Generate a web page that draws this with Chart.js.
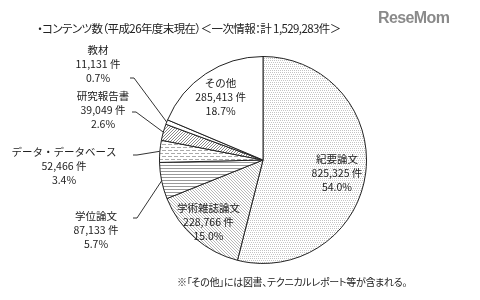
<!DOCTYPE html>
<html>
<head>
<meta charset="utf-8">
<script src="https://cdn.jsdelivr.net/npm/chart.js@4.4.1/dist/chart.umd.min.js"></script>
<style>
  body { margin: 0; background: #fff; }
  #wrap { position: relative; width: 480px; height: 300px; font-family: "Noto Sans CJK JP", sans-serif; color: #222; }
  #title { position: absolute; left: 37px; top: 20px; font-size: 11.5px; white-space: nowrap; font-feature-settings: "palt"; letter-spacing: -0.6px; }
  #logo { position: absolute; left: 378px; top: 9px; font-family: "Liberation Sans", Arial, sans-serif; font-weight: bold; font-size: 16px; color: #8a8a8a; letter-spacing: -0.6px; }
  #note { position: absolute; left: 177px; top: 274px; font-size: 10px; white-space: nowrap; font-feature-settings: "palt"; letter-spacing: -0.3px; }
  canvas { position: absolute; left: 0; top: 0; }
</style>
</head>
<body>
<div id="wrap">
  <canvas id="myPieChart" width="480" height="300"></canvas>
  <div id="title">・コンテンツ数（平成26年度末現在）＜一次情報：計 1,529,283件＞</div>
  <div id="logo">ReseMom</div>
  <div id="note">※「その他」には図書、テクニカルレポート等が含まれる。</div>
</div>

<script>
  // data (clockwise from 12 o'clock)
  var categories = ["紀要論文", "学術雑誌論文", "学位論文", "データ・データベース", "研究報告書", "教材", "その他"];
  var counts = [825325, 228766, 87133, 52466, 39049, 11131, 285413];
  var countLabels = ["825,325 件", "228,766 件", "87,133 件", "52,466 件", "39,049 件", "11,131 件", "285,413 件"];
  var percentLabels = ["54.0%", "15.0%", "5.7%", "3.4%", "2.6%", "0.7%", "18.7%"];

  // where each label sits: inside at a fraction of the radius, or outside at a fixed spot with a leader line
  var labelPlace = [
    { inside: 0.72, dy: 4 },
    { inside: 0.80, dy: 0 },
    { x: 96, y: 216, lx: 133, ly: 218 },
    { x: 64, y: 152, lx: 133, ly: 155 },
    { x: 103, y: 96, lx: 132, ly: 112 },
    { x: 98, y: 50, lx: 130, ly: 78 },
    { inside: 0.74, dy: 1 }
  ];

  function makePattern(kind) {
    var c = document.createElement("canvas");
    var g = c.getContext("2d");
    var s = 6;
    c.width = s; c.height = s;
    g.fillStyle = "#fff";
    g.fillRect(0, 0, s, s);
    if (kind == "dots") {
      g.fillStyle = "#c4c4c4";
      for (var i = 0; i < s; i += 2)
        for (var j = 0; j < s; j += 2)
          g.fillRect(i + (j % 4 ? 1 : 0), j, 1, 1);
    } else if (kind == "diag") {
      g.fillStyle = "#b8b8b8";
      for (var k = 0; k < s; k++) { g.fillRect(k, k, 1, 1); g.fillRect((k + 3) % s, k, 1, 1); }
    } else if (kind == "diag2") {
      g.fillStyle = "#888";
      for (var k = 0; k < s; k++) { g.fillRect(s - 1 - k, k, 1, 1); g.fillRect((2 * s - 4 - k) % s, k, 1, 1); }
    } else if (kind == "hlines") {
      g.fillStyle = "#999";
      g.fillRect(0, 0, s, 1);
      g.fillRect(0, 3, s, 1);
    } else if (kind == "hdash") {
      g.fillStyle = "#aaa";
      g.fillRect(0, 0, 4, 1);
      g.fillRect(3, 3, 3, 1);
      g.fillRect(0, 3, 1, 1);
    }
    return g.createPattern(c, "repeat");
  }

  var fills = [makePattern("dots"), makePattern("diag"), makePattern("hlines"), makePattern("hdash"), makePattern("diag2"), "#ffffff", "#ffffff"];

  var labelPlugin = {
    id: "sliceLabels",
    afterDatasetsDraw: function(chart) {
      var ctx = chart.ctx;
      var arcs = chart.getDatasetMeta(0).data;
      ctx.save();
      ctx.font = "10.5px 'Noto Sans CJK JP'";
      ctx.fillStyle = "#222";
      ctx.textAlign = "center";
      ctx.textBaseline = "middle";
      arcs.forEach(function(arc, i) {
        var p = arc.getProps(["x", "y", "startAngle", "endAngle", "outerRadius"], true);
        var mid = (p.startAngle + p.endAngle) / 2;
        var place = labelPlace[i];
        var tx, ty;
        if (place.inside) {
          tx = p.x + Math.cos(mid) * p.outerRadius * place.inside;
          ty = p.y + Math.sin(mid) * p.outerRadius * place.inside - 14 + place.dy;
        } else {
          tx = place.x; ty = place.y;
          var ex = p.x + Math.cos(mid) * p.outerRadius;
          var ey = p.y + Math.sin(mid) * p.outerRadius;
          ctx.beginPath();
          ctx.strokeStyle = "#333";
          ctx.lineWidth = 1;
          ctx.moveTo(place.lx, place.ly);
          ctx.lineTo(place.lx + 4, place.ly);
          ctx.lineTo(ex, ey);
          ctx.stroke();
        }
        ctx.fillText(categories[i], tx, ty);
        ctx.fillText(countLabels[i], tx, ty + 14);
        ctx.fillText(percentLabels[i], tx, ty + 28);
      });
      ctx.restore();
    }
  };

  var ctx = document.getElementById("myPieChart").getContext("2d");

  var myPieChart = new Chart(ctx, {
    type: 'pie',
    data: {
      labels: categories,
      datasets: [{
        data: counts,
        backgroundColor: fills,
        borderColor: "#222",
        borderWidth: 1
      }]
    },
    options: {
      responsive: false,
      animation: false,
      layout: { padding: { left: 159, right: 113, top: 56, bottom: 36 } },
      plugins: {
        legend: { display: false },
        tooltip: { enabled: false }
      }
    },
    plugins: [labelPlugin]
  });
</script>
</body>
</html>
